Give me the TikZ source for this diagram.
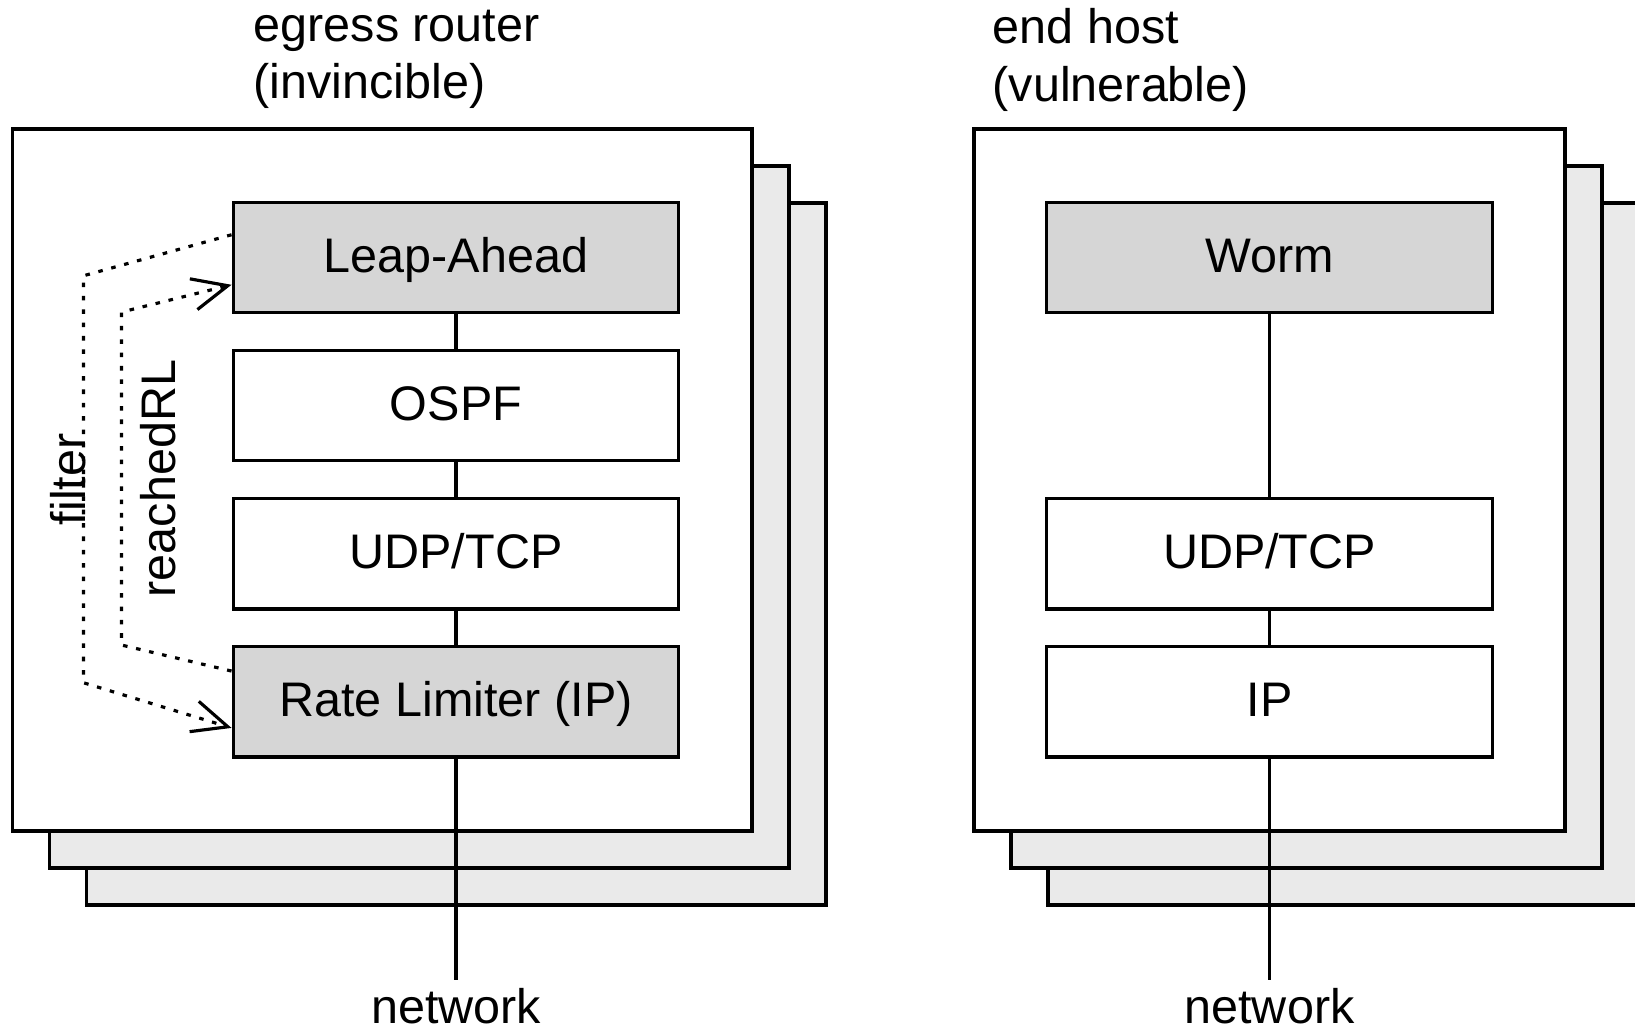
\documentclass[tikz,border=0pt]{standalone}
\usepackage{fontspec}
\setmainfont{Liberation Sans}
\usetikzlibrary{positioning}
\usetikzlibrary{arrows.meta}
\usetikzlibrary{calc}
\definecolor{layergray}{RGB}{214,214,214}
\definecolor{stackgray}{RGB}{234,234,234}
\tikzset{txt/.style={inner sep=0pt,font=\fontsize{13.8}{16.4}\selectfont}}
\tikzset{layer/.style={draw, line width=0.9pt, minimum width=4.455cm, minimum height=1.105cm, inner sep=0pt, text height=0.85em, text depth=0pt, fill=white, font=\fontsize{13.8}{16.4}\selectfont}}
\tikzset{hot/.style={layer, fill=layergray}}
\tikzset{hostbox/.style={draw, line width=0.9pt}}
\tikzset{flow/.style={line width=0.9pt, dash pattern=on 1.3pt off 2.5pt, -{Straight Barb[length=10pt,width=9pt]}}}

\begin{document}
\begin{tikzpicture}[x=0.01cm, y=-0.01cm]
        \clip (0,0) rectangle (1635,1030);

        % host stacks
        \foreach \d in {2,1} {
          \filldraw[hostbox, fill=stackgray] (12.5+37*\d, 129+37*\d) rectangle ++(739.5,702);
          \filldraw[hostbox, fill=stackgray] (974+37*\d, 129+37*\d) rectangle ++(591,702);
        }
        \filldraw[hostbox, fill=white] (12.5,129) rectangle ++(739.5,702);
        \filldraw[hostbox, fill=white] (974,129) rectangle ++(591,702);

        \node[txt, anchor=north west, align=left] (router) at (253,9) {egress router\\(invincible)};
        \node[txt, anchor=north west, align=left] (host) at (992,8) {end host\\(vulnerable)};

        \begin{scope}[on grid, node distance=1.48cm]
        \node[hot] (leap) at (456,257.5) {Leap-Ahead};
        \node[layer, below=of leap] (ospf) {OSPF};
        \node[layer, below=of ospf] (udp) {UDP/TCP};
        \node[hot, below=of udp] (rl) {Rate Limiter (IP)};

        \node[hot] (worm) at (1269.5,257.5) {Worm};
        \node[layer, below=2.96cm of worm] (udp') {UDP/TCP};
        \node[layer, below=of udp'] (ip) {IP};
        \end{scope}

        \node[txt, inner sep=2pt, anchor=base] (net) at (456,1023) {network};
        \node[txt, inner sep=2pt, anchor=base] (net') at (1269.5,1023) {network};

        \draw[line width=0.9pt] (leap) -- (ospf) (ospf) -- (udp) (udp) -- (rl) (rl) -- (net);
        \draw[line width=0.9pt] (worm) -- (udp') (udp') -- (ip) (ip) -- (net');

        \draw[flow] ($(leap.north west)!0.3!(leap.south west)$) -- ++(-148,41)
         -- ++(0,407) node[txt, midway, rotate=90, anchor=south, yshift=-1.1pt] (filter) {filter}
         -- ($(rl.north west)!0.73!(rl.south west)$)
        ;
        \draw[flow] ($(rl.north west)!0.23!(rl.south west)$) -- ++(-110,-26)
         -- ++(0,-333) node[txt, midway, rotate=90, anchor=north, inner sep=5pt] (reached) {reachedRL}
         -- ($(leap.north west)!0.74!(leap.south west)$)
        ;
\end{tikzpicture}
\end{document}
